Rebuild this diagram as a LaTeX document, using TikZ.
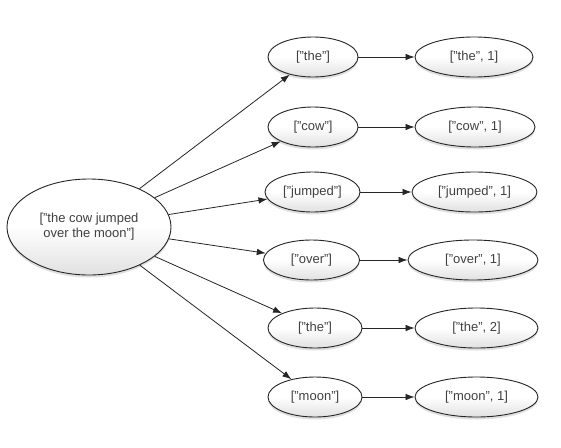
\documentclass[tikz,border=0pt]{standalone}
\usepackage{fontspec}
\setmainfont{Liberation Sans}
\usetikzlibrary{shapes.geometric,arrows.meta,shadows}
\begin{document}
\begin{tikzpicture}[x=1pt,y=-1pt,
  ell/.style={ellipse,draw=black!85,line width=0.9pt,inner sep=0pt,
    top color=white,bottom color=black!12,middle color=white,
    font=\fontsize{13}{15}\selectfont,text=black!75,
    drop shadow={shadow xshift=0pt,shadow yshift=-2.5pt,opacity=0.2,fill=black!60}},
  small/.style={ell,minimum height=40pt},
  conn/.style={draw=black!85,line width=0.8pt,-{Latex[length=9pt,width=6.5pt]}}]
\fill[white] (0,0) rectangle (561,447);
\useasboundingbox (0,0) rectangle (561,447);
\node[ell,minimum width=164pt,minimum height=96pt,align=center] (src) at (89,227) {[\symbol{34}the cow jumped\\over the moon\symbol{34}]};
\node[small,minimum width=90pt] (a1) at (313,57) {[\symbol{34}the\symbol{34}]};
\node[small,minimum width=90pt] (a2) at (313,127) {[\symbol{34}cow\symbol{34}]};
\node[small,minimum width=95pt] (a3) at (312.5,192) {[\symbol{34}jumped\symbol{34}]};
\node[small,minimum width=96pt] (a4) at (311.5,260) {[\symbol{34}over\symbol{34}]};
\node[small,minimum width=94pt] (a5) at (315,328) {[\symbol{34}the\symbol{34}]};
\node[small,minimum width=94pt] (a6) at (315,397) {[\symbol{34}moon\symbol{34}]};
\node[small,minimum width=118pt] (b1) at (474,57) {[\symbol{34}the\symbol{34}, 1]};
\node[small,minimum width=120pt] (b2) at (475,127) {[\symbol{34}cow\symbol{34}, 1]};
\node[small,minimum width=125pt] (b3) at (474.5,192) {[\symbol{34}jumped\symbol{34}, 1]};
\node[small,minimum width=130pt] (b4) at (473,260) {[\symbol{34}over\symbol{34}, 1]};
\node[small,minimum width=123pt] (b5) at (476.5,328) {[\symbol{34}the\symbol{34}, 2]};
\node[small,minimum width=123pt] (b6) at (476.5,397) {[\symbol{34}moon\symbol{34}, 1]};
\foreach \i in {1,...,6}{
  \draw[conn] (src) -- (a\i);
  \draw[conn] (a\i) -- (b\i);
}
\end{tikzpicture}
\end{document}
